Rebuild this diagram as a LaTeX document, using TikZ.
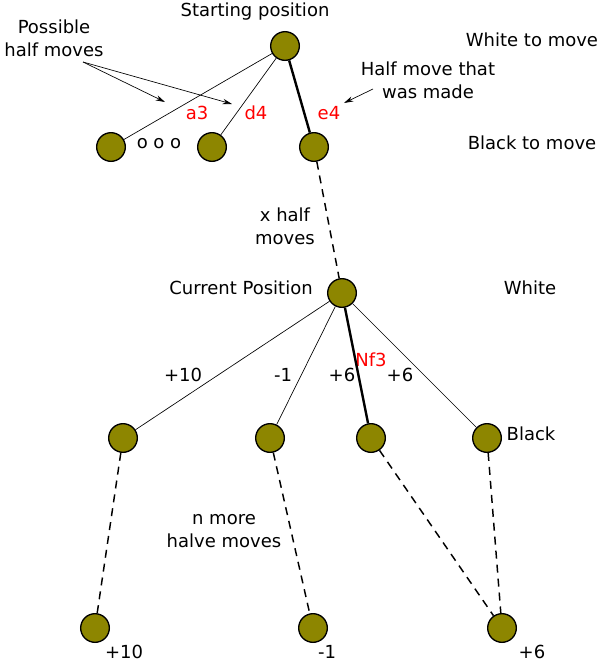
\documentclass[tikz,border=0pt]{standalone}
\usepackage{fontspec}
\setmainfont{DejaVu Sans}
\usetikzlibrary{arrows.meta}

\begin{document}
\begin{tikzpicture}[
    x=0.75pt, y=-0.75pt,
    posn/.style={circle, draw, line width=1pt, fill=olive, minimum size=21.5pt, inner sep=0pt},
    edgeline/.style={line width=0.5pt},
    madeedge/.style={line width=1.8pt},
    dashedge/.style={line width=1.1pt, dash pattern=on 6pt off 4.5pt},
    pointer/.style={-{Stealth[length=7pt,width=4pt]}, line width=0.5pt},
    txt/.style={font=\fontsize{13.5}{17.3}\selectfont, align=center, inner sep=0pt},
    mvtxt/.style={txt, text=red}
]
    \useasboundingbox (0,0) rectangle (600,661);

    % Positions
    \node[posn] (start) at (285,46) {};
    \node[posn] (a3) at (111,147) {};
    \node[posn] (d4) at (212,147) {};
    \node[posn] (e4) at (314,147) {};
    \node[posn] (current) at (342,293) {};
    \foreach \n/\x in {b1/123, b2/270, b3/371, b4/487} {
        \node[posn] (\n) at (\x,438) {};
    }
    \foreach \n/\x in {leaf1/95, leaf2/313, leaf3/502} {
        \node[posn] (\n) at (\x,628) {};
    }

    % Texts
    \node[txt] (startlbl) at (255,12) {Starting position};
    \node[txt] (possible) at (54,38) {Possible\\half moves};
    \node[txt] (wtm) at (532,40) {White to move};
    \node[txt] (btm) at (532,143) {Black to move};
    \node[txt] (madelbl) at (428,80) {Half move that\\was made};
    \node[txt] (dots) at (159,144) {o o o};
    \node[mvtxt] (la3) at (197,113) {a3};
    \node[mvtxt] (ld4) at (256,113) {d4};
    \node[mvtxt] (le4) at (329,113) {e4};
    \node[txt] (xhalf) at (285,226) {x half\\moves};
    \node[txt] (curlbl) at (241,288) {Current Position};
    \node[txt] (white) at (530,288) {White};
    \node[txt] (black) at (531,434) {Black};
    \node[mvtxt] (nf3) at (371,360) {Nf3};
    \foreach \n/\x/\v in {s1/183/+10, s2/283/-1, s3/342/+6, s4/400/+6} {
        \node[txt] (\n) at (\x,375) {\v};
    }
    \node[txt] (nmore) at (224,531) {n more\\halve moves};
    \foreach \n/\x/\v in {r1/124/+10, r2/327/-1, r3/532/+6} {
        \node[txt] (\n) at (\x,652) {\v};
    }

    % Pointers
    \coordinate (pmfrom) at (83,62);
    \coordinate (tipa) at (165,102);
    \coordinate (tipd) at (232,104);
    \coordinate (madefrom) at (373,89);
    \coordinate (tipe) at (344,103);
    \draw[pointer] (pmfrom) -- (tipa);
    \draw[pointer] (pmfrom) -- (tipd);
    \draw[pointer] (madefrom) -- (tipe);

    % Moves
    \draw[edgeline] (start) -- (a3);
    \draw[edgeline] (start) -- (d4);
    \draw[madeedge] (start) -- (e4);
    \draw[dashedge] (e4) -- (current);
    \draw[edgeline] (current) -- (b1);
    \draw[edgeline] (current) -- (b2);
    \draw[madeedge] (current) -- (b3);
    \draw[edgeline] (current) -- (b4);
    \draw[dashedge] (b1) -- (leaf1);
    \draw[dashedge] (b2) -- (leaf2);
    \draw[dashedge] (b3) -- (leaf3);
    \draw[dashedge] (b4) -- (leaf3);

\end{tikzpicture}
\end{document}
